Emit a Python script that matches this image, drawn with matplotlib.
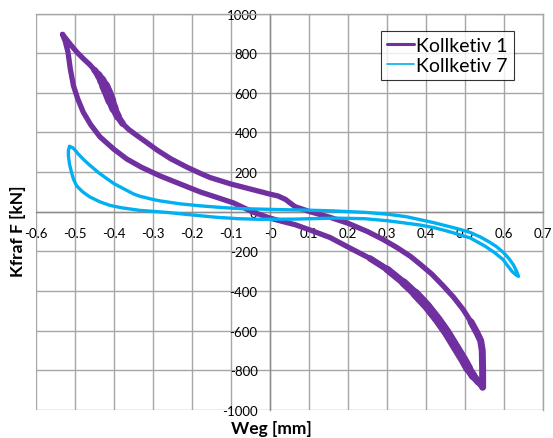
import matplotlib
matplotlib.use("Agg")
import matplotlib.pyplot as plt
import numpy as np

plt.rcParams['font.family'] = ['Lato', 'DejaVu Sans']

# Kollketiv 1 (purple loop)
# upper branch: left peak -> right bottom
k1_up_x = [-0.532, -0.522, -0.510, -0.495, -0.480, -0.462, -0.450, -0.440, -0.432, -0.424,
           -0.416, -0.408, -0.400, -0.390, -0.378, -0.362, -0.345, -0.320, -0.290, -0.255,
           -0.213, -0.180, -0.154, -0.100, -0.051, 0.000, 0.020, 0.040, 0.051, 0.064,
           0.103, 0.154, 0.200, 0.250, 0.290, 0.325, 0.360, 0.385, 0.415, 0.444,
           0.470, 0.495, 0.515, 0.530, 0.540, 0.544, 0.545, 0.545]
k1_up_y = [895, 870, 840, 805, 775, 742, 715, 690, 665, 635,
           600, 560, 520, 480, 445, 415, 390, 355, 312, 268,
           225, 195, 173, 140, 115, 89, 80, 62, 45, 26,
           0, -28, -58, -100, -140, -180, -225, -265, -315, -374,
           -430, -493, -555, -609, -650, -700, -800, -885]
# lower branch: right bottom -> left peak
k1_lo_x = [0.545, 0.535, 0.521, 0.508, 0.495, 0.475, 0.453, 0.430, 0.402, 0.372,
           0.342, 0.300, 0.256, 0.200, 0.154, 0.100, 0.064, 0.030, 0.000, -0.043,
           -0.094, -0.140, -0.179, -0.230, -0.282, -0.330, -0.367, -0.400, -0.436, -0.460,
           -0.479, -0.493, -0.504, -0.512, -0.518, -0.525, -0.532]
k1_lo_y = [-885, -860, -829, -790, -744, -680, -609, -545, -475, -412,
           -357, -290, -235, -178, -130, -90, -65, -48, -32, -2,
           45, 75, 100, 140, 181, 225, 266, 315, 378, 440,
           503, 570, 636, 720, 805, 860, 895]

# Kollketiv 7 (cyan loop)
k7_up_x = [-0.514, -0.505, -0.497, -0.492, -0.485, -0.475, -0.462, -0.440, -0.419, -0.400,
           -0.376, -0.350, -0.333, -0.300, -0.282, -0.230, -0.179, -0.120, -0.077, 0.026,
           0.100, 0.154, 0.244, 0.300, 0.350, 0.385, 0.420, 0.450, 0.480, 0.513,
           0.540, 0.560, 0.580, 0.598, 0.612, 0.624, 0.632, 0.637]
k7_up_y = [330, 322, 305, 292, 278, 258, 235, 198, 168, 142,
           117, 90, 78, 62, 55, 40, 30, 21, 16, 11,
           8, 5, -3, -12, -25, -40, -55, -70, -85, -104,
           -128, -150, -175, -205, -235, -268, -300, -326]
k7_lo_x = [0.637, 0.630, 0.620, 0.605, 0.598, 0.575, 0.550, 0.513, 0.480, 0.450,
           0.420, 0.385, 0.340, 0.300, 0.244, 0.171, 0.100, 0.064, -0.026, -0.080,
           -0.136, -0.200, -0.265, -0.333, -0.380, -0.410, -0.436, -0.462, -0.480, -0.496,
           -0.504, -0.509, -0.514, -0.517, -0.517, -0.514]
k7_lo_y = [-326, -318, -300, -262, -242, -205, -172, -132, -112, -95,
           -80, -67, -55, -45, -35, -32, -35, -37, -38, -35,
           -28, -16, -3, 7, 20, 32, 50, 75, 100, 131,
           165, 199, 240, 283, 310, 330]

x_ticks = np.round(np.arange(-0.6, 0.71, 0.1), 1)
y_ticks = np.arange(-1000, 1001, 200)

purple = '#7030a0'
cyan = '#00b0f0'

fig = plt.figure(figsize=(5.53, 4.39), dpi=100)
ax = fig.add_axes([0.0651, 0.0638, 0.917, 0.903])

k1_x = k1_up_x + k1_lo_x[1:]
k1_y = k1_up_y + k1_lo_y[1:]
k7_x = k7_up_x + k7_lo_x[1:]
k7_y = k7_up_y + k7_lo_y[1:]

ax.plot(k1_x, k1_y, color=purple, lw=3.8, solid_joinstyle='round',
        solid_capstyle='round', label='Kollketiv 1', zorder=3)

# overlapping cycles make some stretches look thicker (tapered overlays)
def thick(xs, ys, w):
    ax.plot(xs, ys, color=purple, lw=w, solid_joinstyle='round',
            solid_capstyle='round', zorder=3)

thick(k1_lo_x[0:13], k1_lo_y[0:13], 4.6)
thick(k1_lo_x[1:12], k1_lo_y[1:12], 5.4)
thick(k1_lo_x[2:11], k1_lo_y[2:11], 6.2)
thick(k1_lo_x[3:10], k1_lo_y[3:10], 7.0)
thick(k1_up_x[42:], k1_up_y[42:], 5.0)
thick(k1_up_x[6:15], k1_up_y[6:15], 4.8)
thick(k1_up_x[7:14], k1_up_y[7:14], 5.8)
thick(k1_up_x[8:13], k1_up_y[8:13], 6.8)
thick(k1_up_x[9:12], k1_up_y[9:12], 7.8)

ax.plot(k7_x, k7_y, color=cyan, lw=2.4, solid_joinstyle='round',
        solid_capstyle='round', label='Kollketiv 7', zorder=3)

ax.set_xlim(-0.6, 0.7)
ax.set_ylim(-1000, 1000)
ax.set_xticks(x_ticks)
ax.set_yticks(y_ticks)
ax.set_xticklabels([('%g' % v) for v in x_ticks])
ax.set_yticklabels([str(v) for v in y_ticks])
ax.grid(True, color='#a6a6a6', lw=1.0, zorder=0)

ax.spines['left'].set_position(('data', 0))
ax.spines['bottom'].set_position(('data', 0))
for s in ['left', 'bottom']:
    ax.spines[s].set_color('#8c8c8c')
    ax.spines[s].set_linewidth(1.0)
for s in ['top', 'right']:
    ax.spines[s].set_color('#a6a6a6')
    ax.spines[s].set_linewidth(1.0)

ax.tick_params(axis='both', length=0, labelsize=9.5, colors='black')
ax.tick_params(axis='x', pad=11)
ax.tick_params(axis='y', pad=9)

fig.text(0.49, 0.023, 'Weg [mm]', fontsize=12.5, fontweight='bold', ha='center', va='center')
fig.text(0.032, 0.474, 'Kfraf F [kN]', fontsize=12.5, fontweight='bold',
         rotation=90, ha='center', va='center')

leg = ax.legend(loc='upper left', bbox_to_anchor=(0.680, 0.956), fontsize=14,
                frameon=True, fancybox=False, handlelength=1.4, handletextpad=0.1,
                borderpad=0.32, borderaxespad=0, labelspacing=0.15)
leg.get_frame().set_edgecolor('black')
leg.get_frame().set_linewidth(0.8)
leg.get_lines()[0].set_linewidth(2.2)
leg.get_lines()[1].set_linewidth(1.2)

fig.savefig('out.png', dpi=100)
